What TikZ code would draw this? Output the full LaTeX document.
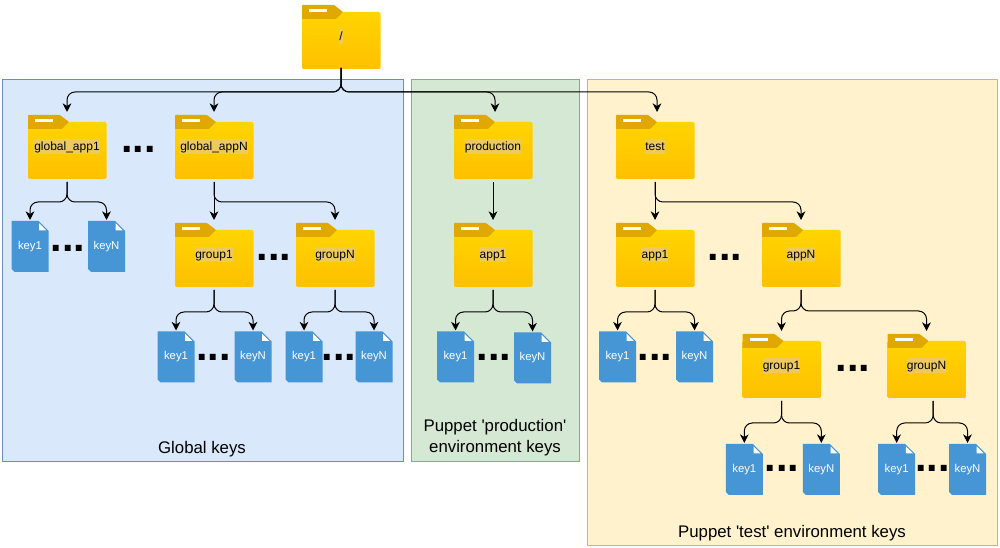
\documentclass[tikz,border=0pt]{standalone}
\usepackage{fontspec}
\setmainfont{Liberation Sans}
\usetikzlibrary{arrows.meta}
\definecolor{folderTop}{HTML}{FFD400}
\definecolor{folderBot}{HTML}{FFC000}
\definecolor{folderTab}{HTML}{E0A800}
\definecolor{labelBg}{HTML}{EEC95E}
\definecolor{keyBlue}{HTML}{4696D6}
\newcommand{\hlabel}[1]{{\setlength{\fboxsep}{0pt}\colorbox{labelBg}{\rule[-2.9pt]{0pt}{11.25pt}#1}}}
% name, x, y, text
\newcommand{\foldernode}[4]{
    \begin{scope}[shift={(#2-39,#3-32)}]
        \shade[top color=folderTop, bottom color=folderBot, rounded corners=1pt] (0,7) rectangle (78.5,64);
        \fill[folderTab, rounded corners=0.5pt] (0,0) -- (32,0) -- (41,7) -- (34,14) -- (0,14) -- cycle;
        \fill[white] (7,4) rectangle (25,7);
    \end{scope}
    \node[folder] (#1) at (#2,#3) {\hlabel{#4}};
}
\newcommand{\keynode}[4]{
    \begin{scope}[shift={(#2-18.5,#3-25.5)}]
        \fill[keyBlue] (0,0) -- (27,0) -- (37,10) -- (37,51) -- (3,51) -- (0,48) -- cycle;
        \fill[white] (27.7,2.3) -- (34.7,9.3) -- (27.7,9.3) -- cycle;
    \end{scope}
    \node[keyfile] (#1) at (#2,#3) {#4};
}
\tikzset{
    folder/.style={rectangle, minimum width=58.5pt, minimum height=48pt, inner sep=0pt, outer sep=2.25pt, font=\fontsize{9}{11}\selectfont},
    keyfile/.style={rectangle, minimum width=27.75pt, minimum height=38.25pt, inner sep=0pt, outer sep=0.75pt, text=white, font=\fontsize{8.5}{11}\selectfont},
    link/.style={draw=black, line width=0.75pt, rounded corners=6pt, -{Stealth[length=6.5pt, width=6.5pt, inset=2pt]}},
    dotrow/.style={anchor=base, inner sep=0pt, font=\fontsize{31}{31}\selectfont\bfseries},
    areatext/.style={align=center, inner sep=0pt, font=\fontsize{12.6}{15.75}\selectfont}
}
\begin{document}
\begin{tikzpicture}[x=0.75pt, y=-0.75pt]
    \useasboundingbox (0,0) rectangle (1000,548);
    % areas
    \draw[fill={rgb,255:red,218;green,232;blue,252}, draw={rgb,255:red,108;green,142;blue,191}] (2.5,79.5) rectangle (403.5,461);
    \draw[fill={rgb,255:red,213;green,232;blue,212}, draw={rgb,255:red,130;green,179;blue,102}] (411.5,79.5) rectangle (579.5,461);
    \draw[fill={rgb,255:red,255;green,242;blue,204}, draw={rgb,255:red,214;green,182;blue,86}] (587.5,79.5) rectangle (997,545);
    \node[areatext] (globaltext) at (202,449) {Global keys};
    \node[areatext] (prodtext) at (495,438) {Puppet \textquotesingle production\textquotesingle\\environment keys};
    \node[areatext] (testtext) at (792,533) {Puppet \textquotesingle test\textquotesingle{} environment keys};
    % folders
    \foldernode{root}{341}{37}{/}
    \foldernode{gapp1}{67}{147}{global\_app1}
    \foldernode{gappN}{214}{147}{global\_appN}
    \foldernode{ggroup1}{214}{255}{group1}
    \foldernode{ggroupN}{335}{255}{groupN}
    \foldernode{prod}{493}{147}{production}
    \foldernode{papp1}{493}{255}{app1}
    \foldernode{test}{655}{147}{test}
    \foldernode{tapp1}{655}{255}{app1}
    \foldernode{tappN}{801}{255}{appN}
    \foldernode{tgroup1}{781.5}{366}{group1}
    \foldernode{tgroupN}{926.5}{366}{groupN}
    % keys
    \foreach \name/\cx/\cy/\txt in {ka1/30/246.5/key1, kaN/106.5/246.5/keyN,
        kb1/176/357/key1, kbN/253/357/keyN, kc1/304/357/key1, kcN/374/357/keyN,
        kd1/455.5/357/key1, kdN/532.5/358/keyN, ke1/617.5/357/key1, keN/694.5/357/keyN,
        kf1/744.3/469.5/key1, kfN/821.3/469.5/keyN, kg1/896.7/469.5/key1, kgN/967.5/469.5/keyN}
        {\keynode{\name}{\cx}{\cy}{\txt}}
    % dots
    \foreach \name/\cx/\cy in {da/138.5/153, db/68/252, dc/274/261, dd/213.3/361, de/339/361,
        df/494/361, dg/725/261, dh/655/361, di/853/372, dj/782/472, dk/932.5/472}
        \node[dotrow] (\name) at (\cx,\cy) {...};
    % connectors
    \foreach \from/\to/\bus/\dx in {root/gapp1/92/0pt, root/gappN/92/0pt, root/prod/92/1.5pt, root/test/92/1.5pt}
        \draw[link, shorten <=-3pt] (\from.south) -- (\from.south |- 0,\bus) -| ([xshift=\dx]\to.north);
    \foreach \from/\to/\bus in {gapp1/ka1/202, gapp1/kaN/202, gappN/ggroupN/202,
        ggroup1/kb1/312, ggroup1/kbN/312, ggroupN/kc1/312, ggroupN/kcN/312,
        papp1/kd1/312, papp1/kdN/312, test/tappN/202, tapp1/ke1/312, tapp1/keN/312,
        tappN/tgroup1/311, tappN/tgroupN/311, tgroup1/kf1/423, tgroup1/kfN/423}
        \draw[link] (\from.south) -- (\from.south |- 0,\bus) -| (\to.north);
    \foreach \to in {kg1, kgN}
        \draw[link] ([xshift=5pt]tgroupN.south) -- ([xshift=5pt]tgroupN.south |- 0,423) -| (\to.north);
    \foreach \from/\to in {gappN/ggroup1, prod/papp1, test/tapp1}
        \draw[link] (\from.south) -- (\to.north);
\end{tikzpicture}
\end{document}
